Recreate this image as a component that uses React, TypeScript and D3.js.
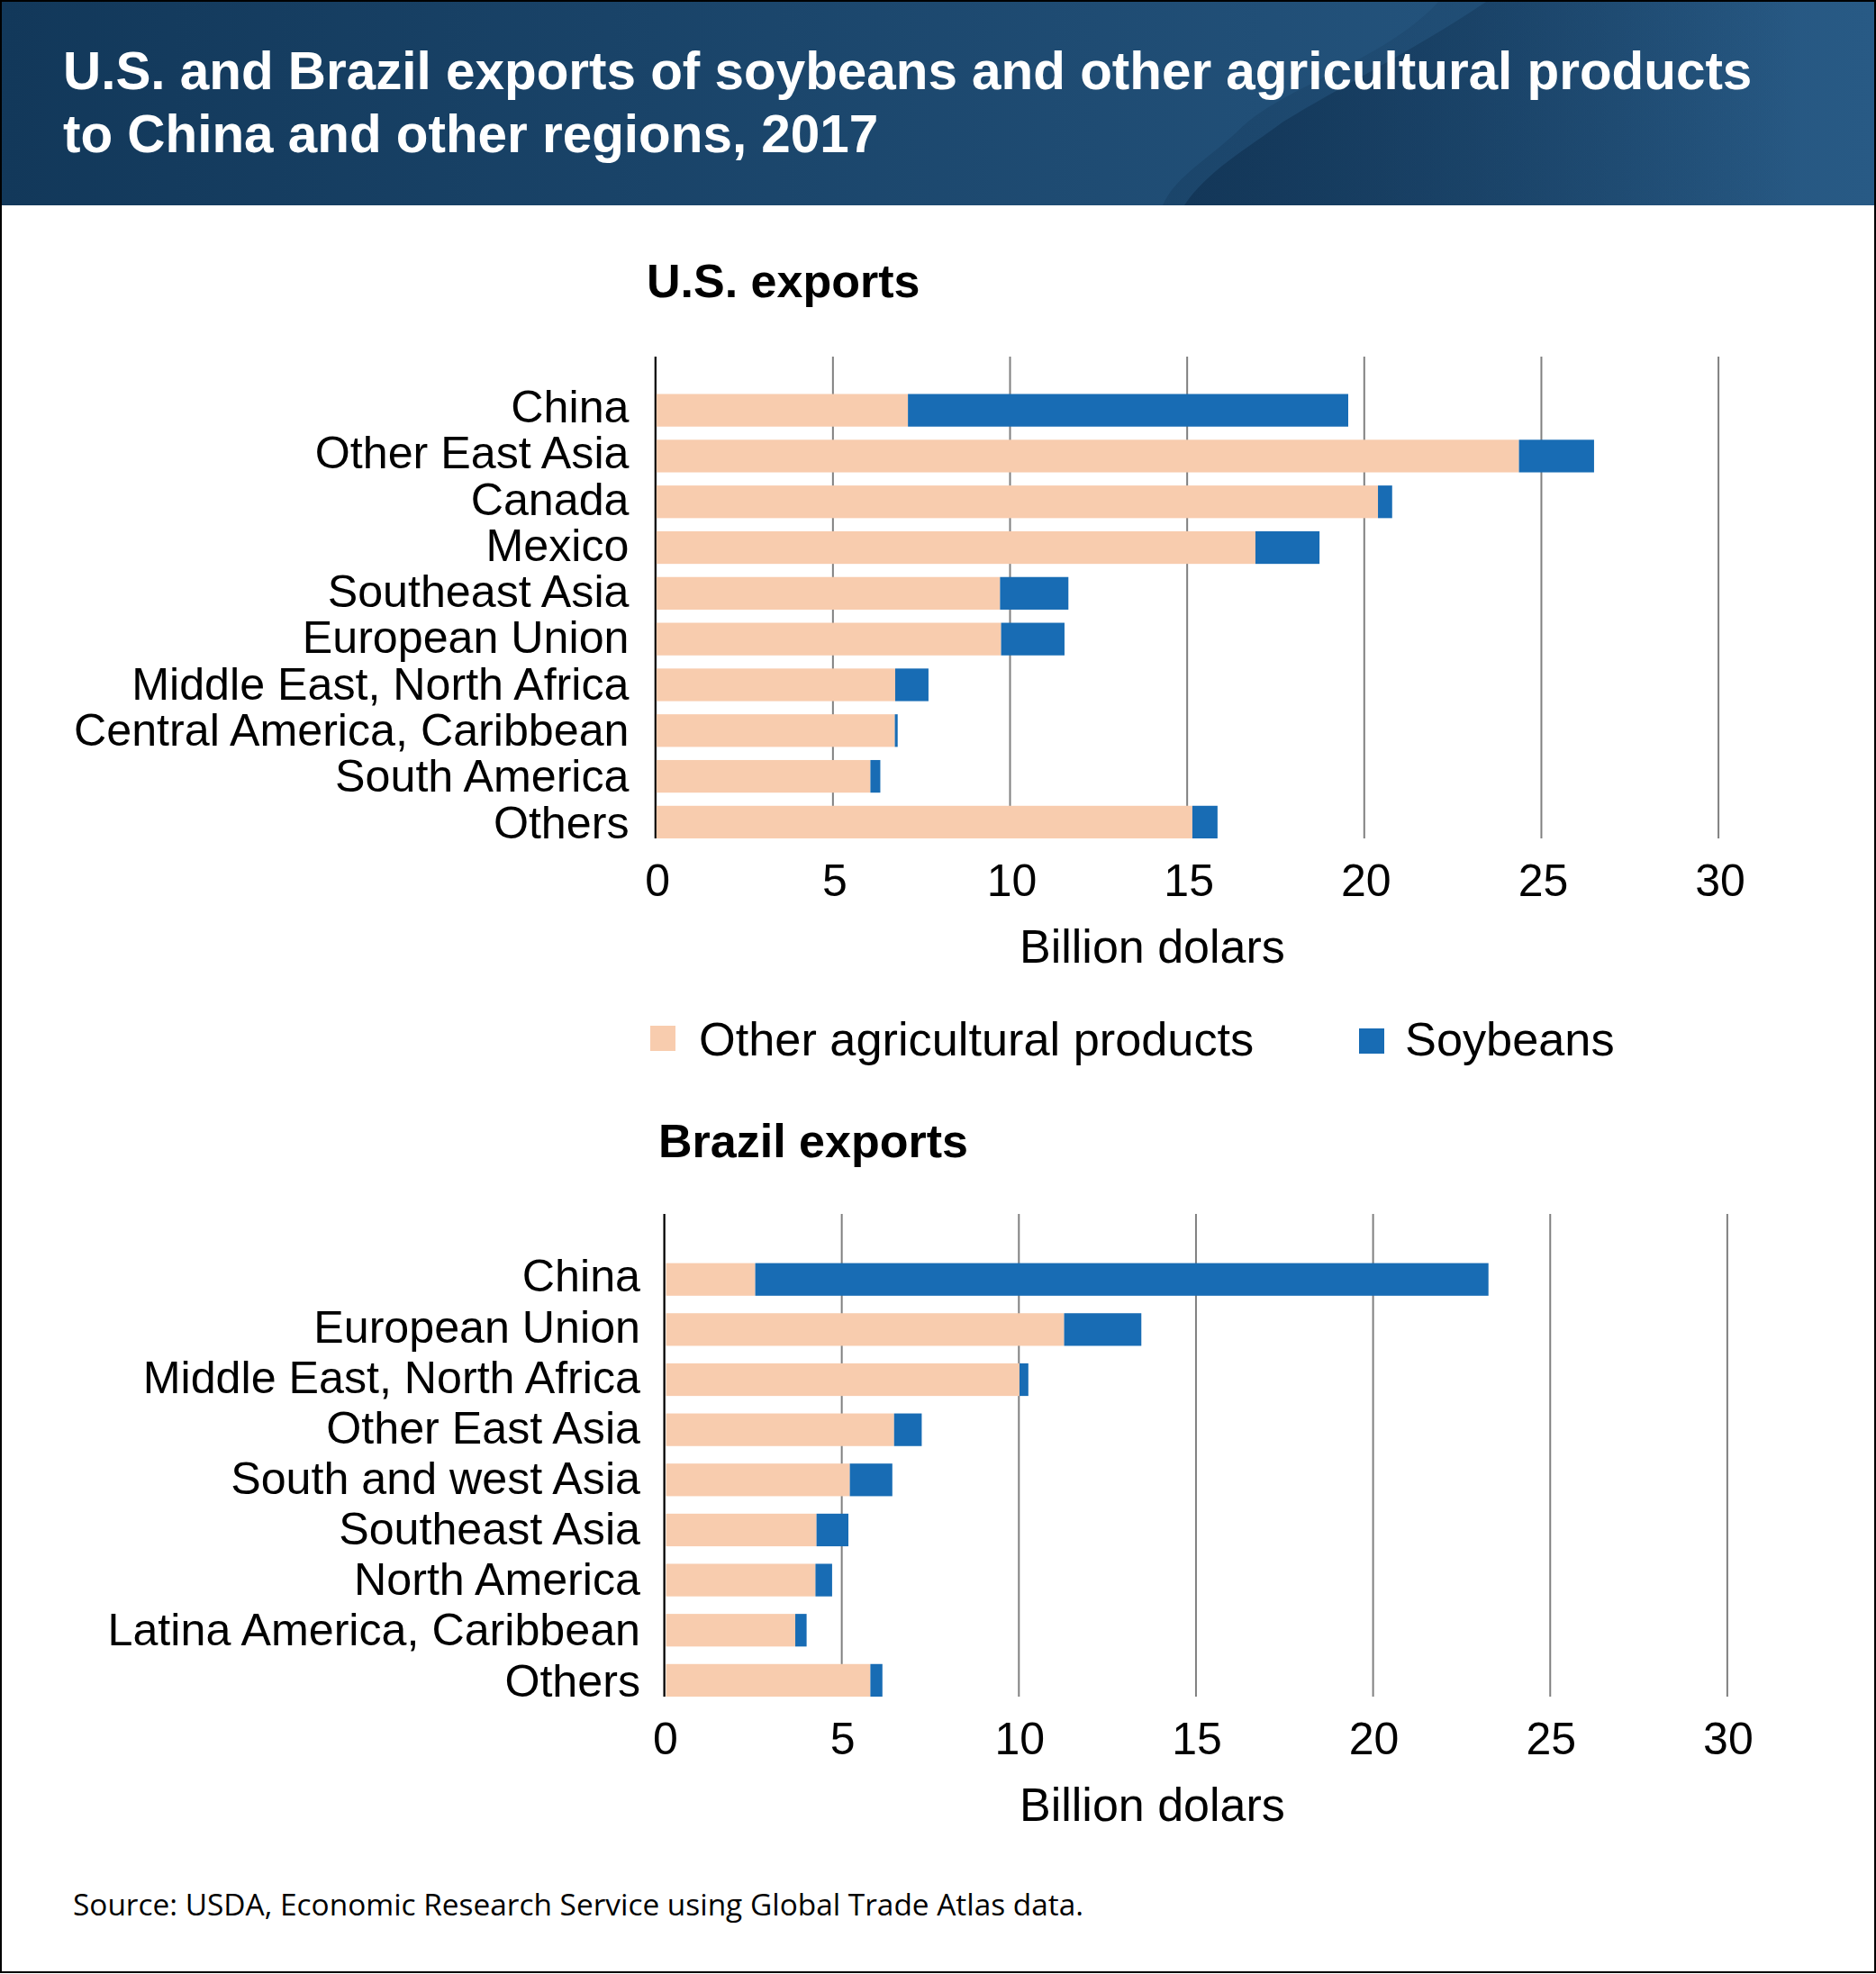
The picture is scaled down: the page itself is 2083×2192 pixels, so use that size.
import * as d3 from "d3";
import { useEffect, useRef } from "react";

const WIDTH = 2083;
const HEIGHT = 2192;

const usCategories = ["China", "Other East Asia", "Canada", "Mexico", "Southeast Asia", "European Union", "Middle East, North Africa", "Central America, Caribbean", "South America", "Others"];
const usOther = [7.13, 24.38, 20.4, 16.94, 9.73, 9.76, 6.77, 6.76, 6.07, 15.16];
const usSoybeans = [12.43, 2.12, 0.4, 1.81, 1.93, 1.79, 0.94, 0.08, 0.28, 0.71];

const brCategories = ["China", "European Union", "Middle East, North Africa", "Other East Asia", "South and west Asia", "Southeast Asia", "North America", "Latina America, Caribbean", "Others"];
const brOther = [2.57, 11.29, 10.03, 6.49, 5.24, 4.3, 4.27, 3.7, 5.82];
const brSoybeans = [20.7, 2.18, 0.25, 0.78, 1.2, 0.9, 0.47, 0.32, 0.34];

const xTicks = [0, 5, 10, 15, 20, 25, 30];
const seriesNames = ["Other agricultural products", "Soybeans"];
const seriesColors = ["#f8ccae", "#186cb4"];

const FONT = "'Liberation Sans', Arial, sans-serif";

type Panel = {
	title: string;
	titleX: number;
	titleY: number;
	categories: string[];
	other: number[];
	soybeans: number[];
	axisX: number;
	axisTop: number;
	barTop: number;
	barBottom: number;
	padding: number;
	barInset: number;
	labelX: number;
	labelTop: number;
	labelBottom: number;
	tickY: number;
	tickShift: number;
	unitY: number;
};

const panels: Panel[] = [
	{ title: "U.S. exports", titleX: 718, titleY: 330, categories: usCategories, other: usOther, soybeans: usSoybeans, axisX: 727.7, axisTop: 396, barTop: 437.5, barBottom: 931, padding: 0.287, barInset: 1, labelX: 698.5, labelTop: 469, labelBottom: 930.6, tickY: 995, tickShift: 2, unitY: 1069 },
	{ title: "Brazil exports", titleX: 731, titleY: 1285, categories: brCategories, other: brOther, soybeans: brSoybeans, axisX: 737.5, axisTop: 1348, barTop: 1402.6, barBottom: 1884, padding: 0.349, barInset: 2, labelX: 711, labelTop: 1434.4, labelBottom: 1883.6, tickY: 1948, tickShift: 1, unitY: 2022 },
];

function drawPanel(svg: d3.Selection<SVGSVGElement, unknown, null, undefined>, p: Panel) {
	const x = d3.scaleLinear().domain([0, 30]).range([p.axisX, p.axisX + 30 * 39.33]);
	const y = d3.scaleBand<string>().domain(p.categories).range([p.barTop, p.barBottom]).paddingInner(p.padding).paddingOuter(0);
	// labels sit on a slightly wider spacing than the bars
	const labelY = d3.scalePoint<string>().domain(p.categories).range([p.labelTop, p.labelBottom]);

	// gridlines and tick labels come from the axis
	const axis = svg
		.append("g")
		.attr("transform", `translate(0,${p.barBottom})`)
		.call(d3.axisBottom(x).tickValues(xTicks).tickSize(-(p.barBottom - p.axisTop)).tickPadding(0).tickFormat(d3.format("d")));
	axis.select(".domain").remove();
	axis.selectAll(".tick line").attr("stroke", "#808080").attr("stroke-width", 2);
	axis.selectAll(".tick text")
		.attr("y", p.tickY - p.barBottom)
		.attr("dy", 0)
		.attr("dx", p.tickShift)
		.attr("fill", "#000")
		.style("font-family", FONT)
		.style("font-size", "50px");

	const rows = p.categories.map((c, i) => ({ c, other: p.other[i], soy: p.soybeans[i] }));
	svg.append("g").selectAll("rect").data(rows).join("rect")
		.attr("x", x(0) + p.barInset)
		.attr("y", (d) => y(d.c) as number)
		.attr("width", (d) => x(d.other) - x(0) - p.barInset)
		.attr("height", y.bandwidth())
		.attr("fill", seriesColors[0]);
	svg.append("g").selectAll("rect").data(rows).join("rect")
		.attr("x", (d) => x(d.other))
		.attr("y", (d) => y(d.c) as number)
		.attr("width", (d) => x(d.other + d.soy) - x(d.other))
		.attr("height", y.bandwidth())
		.attr("fill", seriesColors[1]);

	// zero line on top of the gridlines
	svg.append("line")
		.attr("x1", x(0)).attr("x2", x(0))
		.attr("y1", p.axisTop).attr("y2", p.barBottom)
		.attr("stroke", "#000").attr("stroke-width", 2);

	svg.append("g").selectAll("text").data(p.categories).join("text")
		.attr("x", p.labelX)
		.attr("y", (d) => labelY(d) as number)
		.attr("text-anchor", "end")
		.style("font-family", FONT)
		.style("font-size", "50.2px")
		.text((d) => d);

	svg.append("text")
		.attr("x", p.titleX).attr("y", p.titleY)
		.style("font-family", FONT).style("font-size", "52px").style("font-weight", "700")
		.text(p.title);

	svg.append("text")
		.attr("x", 1132).attr("y", p.unitY)
		.style("font-family", FONT).style("font-size", "52px")
		.text("Billion dolars");
}

export default function App() {
	const svgRef = useRef<SVGSVGElement>(null);

	useEffect(() => {
		if (!svgRef.current) return;
		const svg = d3.select(svgRef.current);
		svg.selectAll("*").remove();

		const defs = svg.append("defs");
		const grad = defs.append("linearGradient").attr("id", "head");
		grad.append("stop").attr("offset", "0").attr("stop-color", "#12385a");
		grad.append("stop").attr("offset", "1").attr("stop-color", "#285a85");
		const shade = defs.append("linearGradient").attr("id", "shade")
			.attr("gradientUnits", "userSpaceOnUse").attr("x1", 1300).attr("x2", 2000).attr("y1", 0).attr("y2", 0);
		shade.append("stop").attr("offset", "0").attr("stop-color", "#0f3050").attr("stop-opacity", 0.7);
		shade.append("stop").attr("offset", "1").attr("stop-color", "#0f3050").attr("stop-opacity", 0);

		svg.append("rect").attr("width", WIDTH).attr("height", 228).attr("fill", "url(#head)");

		// darker swoosh on the right of the header, two overlapping layers
		svg.append("path")
			.attr("d", "M1291,228 C1305,195 1345,175 1380,140 C1430,95 1540,65 1597,2 L2083,2 L2083,228 Z")
			.attr("fill", "url(#shade)")
			.attr("opacity", 0.4);
		svg.append("path")
			.attr("d", "M1315,228 C1340,190 1385,165 1425,135 C1490,95 1580,50 1650,2 L2083,2 L2083,228 Z")
			.attr("fill", "url(#shade)")
			.attr("opacity", 1);

		svg.append("g").selectAll("text").data(["U.S. and Brazil exports of soybeans and other agricultural products", "to China and other regions, 2017"]).join("text")
			.attr("x", 70)
			.attr("y", (_, i) => 99 + i * 70)
			.attr("fill", "#fff")
			.style("font-family", FONT).style("font-size", "58.4px").style("font-weight", "700")
			.text((d) => d);

		panels.forEach((p) => drawPanel(svg, p));

		// legend
		const legendX = [722, 1509];
		const legendY = [1139, 1142];
		const legendTextX = [776, 1560];
		seriesNames.forEach((name, i) => {
			svg.append("rect").attr("x", legendX[i]).attr("y", legendY[i]).attr("width", 28).attr("height", 28).attr("fill", seriesColors[i]);
			svg.append("text").attr("x", legendTextX[i]).attr("y", 1172)
				.style("font-family", FONT).style("font-size", "52.3px")
				.text(name);
		});

		svg.append("text")
			.attr("x", 81).attr("y", 2127)
			.style("font-family", "'Open Sans', sans-serif").style("font-size", "33.4px")
			.text("Source: USDA, Economic Research Service using Global Trade Atlas data.");

		// frame
		svg.append("rect")
			.attr("x", 1).attr("y", 1).attr("width", WIDTH - 2).attr("height", HEIGHT - 3)
			.attr("fill", "none").attr("stroke", "#000").attr("stroke-width", 2);
	}, []);

	return <svg ref={svgRef} width={WIDTH} height={HEIGHT} style={{ position: "absolute", left: 0, top: 0, background: "#fff" }} />;
}
